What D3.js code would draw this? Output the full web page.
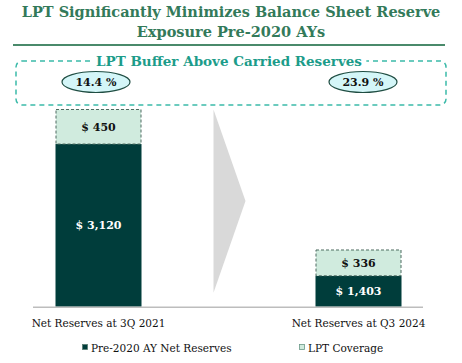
<!DOCTYPE html>
<html>
<head>
<meta charset="utf-8">
<script src="https://cdn.jsdelivr.net/npm/d3@7"></script>
<style>
  body { margin: 0; background: #fff; }
  svg { display: block; }
</style>
</head>
<body>
<svg width="462" height="363"></svg>
<script>
const categories = ["Net Reserves at 3Q 2021", "Net Reserves at Q3 2024"];
const netReserves = [3120, 1403];
const lptCoverage = [450, 336];
const bufferPct = [14.4, 23.9];
const seriesNames = ["Pre-2020 AY Net Reserves", "LPT Coverage"];
const titleLines = ["LPT Significantly Minimizes Balance Sheet Reserve", "Exposure Pre-2020 AYs"];
const subTitle = "LPT Buffer Above Carried Reserves";

const serif = "Georgia, 'DejaVu Serif', serif";
const svg = d3.select('svg');

// title
svg.selectAll('text.title')
    .data(titleLines)
    .join('text')
    .attr('class', 'title')
    .attr('x', 231)
    .attr('y', (d, i) => 17 + i * 20)
    .attr('text-anchor', 'middle')
    .style('font-family', serif)
    .style('font-weight', 'bold')
    .style('font-size', '14.5px')
    .attr('fill', '#337a5a')
    .text(d => d);

svg.append('line')
    .attr('x1', 13).attr('x2', 445)
    .attr('y1', 45).attr('y2', 45)
    .attr('stroke', '#4a8a6b').attr('stroke-width', 2);

// dashed buffer box
svg.append('rect')
    .attr('x', 16).attr('y', 61)
    .attr('width', 430).attr('height', 44)
    .attr('rx', 6)
    .attr('fill', 'none')
    .attr('stroke', '#3bbaa9')
    .attr('stroke-width', 1.5)
    .attr('stroke-dasharray', '5,4');

const sub = svg.append('text')
    .attr('x', 229).attr('y', 66)
    .attr('text-anchor', 'middle')
    .style('font-family', serif)
    .style('font-weight', 'bold')
    .style('font-size', '13.5px')
    .attr('fill', '#1c9c8a')
    .text(subTitle);
const bb = sub.node().getBBox();
svg.insert('rect', 'text:last-of-type')
    .attr('x', bb.x - 4).attr('y', 58)
    .attr('width', bb.width + 8).attr('height', 6)
    .attr('fill', '#fff');

// scales
const x = d3.scalePoint().domain(categories).range([98.5, 358.5]);
const xCall = d3.scalePoint().domain(categories).range([96, 363]);
const y = d3.scaleLinear().domain([1000, 3570]).range([306.7, 109.5]);
const barW = 86;

// callouts
const callouts = svg.selectAll('g.callout')
    .data(categories)
    .join('g')
    .attr('transform', d => `translate(${xCall(d)}, 82)`);
callouts.append('ellipse')
    .attr('rx', 34).attr('ry', 10.5)
    .attr('fill', '#d4f6f8')
    .attr('stroke', '#1f4d42')
    .attr('stroke-width', 1.2);
callouts.append('text')
    .attr('y', 4)
    .attr('text-anchor', 'middle')
    .style('font-family', serif)
    .style('font-weight', 'bold')
    .style('font-size', '11px')
    .attr('fill', '#111')
    .text((d, i) => bufferPct[i].toFixed(1) + ' %');

// arrow between the bars
const mid = (x(categories[0]) + x(categories[1])) / 2;
svg.append('polygon')
    .attr('points', [
        [mid - 15, y(netReserves[0] + lptCoverage[0])],
        [mid + 17, (y(netReserves[0] + lptCoverage[0]) + y.range()[0] - 14) / 2],
        [mid - 15, y.range()[0] - 14]
    ].join(' '))
    .attr('fill', '#d9d9d9');

// bars
const bars = svg.selectAll('g.bar')
    .data(categories)
    .join('g')
    .attr('class', 'bar')
    .attr('transform', d => `translate(${x(d) - barW / 2}, 0)`);

bars.append('rect')
    .attr('y', (d, i) => y(netReserves[i]))
    .attr('width', barW)
    .attr('height', (d, i) => y(1000) - y(netReserves[i]))
    .attr('fill', '#003d3b');

bars.append('rect')
    .attr('x', 0.5)
    .attr('y', (d, i) => y(netReserves[i] + lptCoverage[i]))
    .attr('width', barW - 1)
    .attr('height', (d, i) => y(netReserves[i]) - y(netReserves[i] + lptCoverage[i]))
    .attr('fill', '#d0ebde')
    .attr('stroke', '#4d6b60')
    .attr('stroke-width', 1)
    .attr('stroke-dasharray', '3,2');

bars.append('text')
    .attr('x', barW / 2)
    .attr('y', (d, i) => (y(netReserves[i]) + y(1000)) / 2 + 4)
    .attr('text-anchor', 'middle')
    .style('font-family', serif)
    .style('font-weight', 'bold')
    .style('font-size', '11px')
    .attr('fill', '#fff')
    .text((d, i) => '$ ' + d3.format(',')(netReserves[i]));

bars.append('text')
    .attr('x', barW / 2)
    .attr('y', (d, i) => (y(netReserves[i]) + y(netReserves[i] + lptCoverage[i])) / 2 + 4)
    .attr('text-anchor', 'middle')
    .style('font-family', serif)
    .style('font-weight', 'bold')
    .style('font-size', '11px')
    .attr('fill', '#111')
    .text((d, i) => '$ ' + d3.format(',')(lptCoverage[i]));

// baseline
svg.append('line')
    .attr('x1', 33).attr('x2', 423)
    .attr('y1', y(1000) + 0.5).attr('y2', y(1000) + 0.5)
    .attr('stroke', '#bdbdbd').attr('stroke-width', 1.5);

// category labels
svg.selectAll('text.cat')
    .data(categories)
    .join('text')
    .attr('class', 'cat')
    .attr('x', d => x(d))
    .attr('y', 327)
    .attr('text-anchor', 'middle')
    .style('font-family', serif)
    .style('font-size', '10.5px')
    .attr('fill', '#111')
    .text(d => d);

// legend
const legendX = [82, 299];
const legend = svg.selectAll('g.legend')
    .data(seriesNames)
    .join('g')
    .attr('transform', (d, i) => `translate(${legendX[i]}, 344)`);
legend.append('rect')
    .attr('x', 0.5).attr('y', 0.5)
    .attr('width', 5).attr('height', 5)
    .attr('fill', (d, i) => i === 0 ? '#003d3b' : '#d0ebde')
    .attr('stroke', (d, i) => i === 0 ? '#5a7d72' : '#6a9a88')
    .attr('stroke-width', 0.8);
legend.append('text')
    .attr('x', 9).attr('y', 8)
    .style('font-family', serif)
    .style('font-size', '10.5px')
    .attr('fill', '#111')
    .text(d => d);
</script>
</body>
</html>
